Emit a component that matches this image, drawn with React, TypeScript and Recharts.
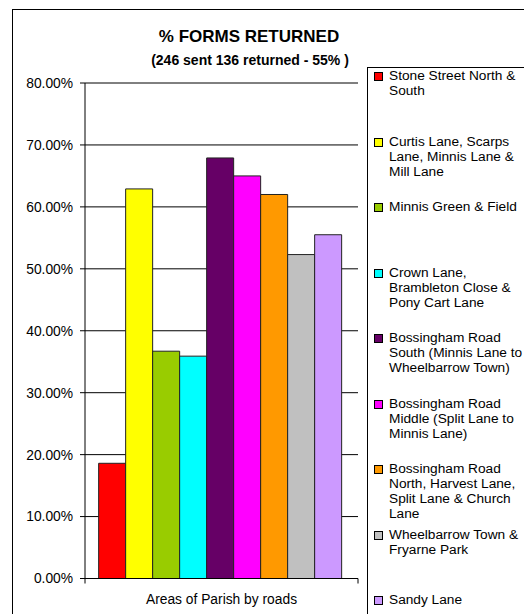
import { Bar, BarChart, CartesianGrid, XAxis, YAxis } from "recharts";

const category = "Areas of Parish by roads";

const areas = [
  "Stone Street North &\nSouth",
  "Curtis Lane, Scarps\nLane, Minnis Lane &\nMill Lane",
  "Minnis Green & Field",
  "Crown Lane,\nBrambleton Close &\nPony Cart Lane",
  "Bossingham Road\nSouth (Minnis Lane to\nWheelbarrow Town)",
  "Bossingham Road\nMiddle (Split Lane to\nMinnis Lane)",
  "Bossingham Road\nNorth, Harvest Lane,\nSplit Lane & Church\nLane",
  "Wheelbarrow Town &\nFryarne Park",
  "Sandy Lane",
];

// % of forms returned per area
const returned = [18.6, 62.9, 36.7, 35.9, 67.9, 65.0, 62.0, 52.3, 55.5];

const colors = [
  "#ff0000",
  "#ffff00",
  "#99cc00",
  "#00ffff",
  "#660066",
  "#ff00ff",
  "#ff9900",
  "#c0c0c0",
  "#cc99ff",
];

const yTicks = [0, 10, 20, 30, 40, 50, 60, 70, 80];

const row: Record<string, string | number> = { cat: category };
areas.forEach((_, i) => {
  row[`s${i}`] = returned[i];
});
const data = [row];

const font = "'Liberation Sans', Arial, sans-serif";

function CategoryTick(props: any) {
  const { x, y, payload } = props;
  const half = payload && payload.offset ? payload.offset : 0;
  return (
    <g>
      {half > 0 && (
        <>
          <line x1={x - half} x2={x - half} y1={y} y2={y + 5} stroke="#000" />
          <line x1={x + half} x2={x + half} y1={y} y2={y + 5} stroke="#000" />
        </>
      )}
      <text x={x} y={y + 25} textAnchor="middle" fontSize={13.8} fill="#000" fontFamily={font}>
        {payload.value}
      </text>
    </g>
  );
}

function Legend() {
  return (
    <div
      style={{
        position: "absolute",
        left: 367,
        top: 67,
        width: 180,
        height: 600,
        border: "1px solid #000",
        background: "#fff",
      }}
    >
      {areas.map((name, i) => (
        <div
          key={name}
          style={{
            position: "absolute",
            left: 6,
            top: 0 + i * 65.5,
            display: "flex",
            alignItems: "flex-start",
          }}
        >
          <div
            style={{
              width: 7,
              height: 7,
              marginTop: 4,
              marginRight: 6,
              background: colors[i],
              border: "1px solid #000",
              flexShrink: 0,
            }}
          />
          <div
            style={{
              fontFamily: font,
              fontSize: 13.7,
              lineHeight: "15px",
              whiteSpace: "pre",
              color: "#000",
            }}
          >
            {name}
          </div>
        </div>
      ))}
    </div>
  );
}

export default function App() {
  return (
    <div
      style={{
        position: "absolute",
        left: 0,
        top: 0,
        width: 524,
        height: 614,
        overflow: "hidden",
        background: "#fff",
      }}
    >
      <div
        style={{
          position: "absolute",
          left: 12,
          top: 9,
          width: 600,
          height: 700,
          border: "1px solid #000",
        }}
      />
      <div
        style={{
          position: "absolute",
          left: 0,
          width: 498,
          top: 27,
          textAlign: "center",
          fontFamily: font,
          fontWeight: "bold",
          fontSize: 17,
          lineHeight: "20px",
        }}
      >
        % FORMS RETURNED
      </div>
      <div
        style={{
          position: "absolute",
          left: 0,
          width: 500,
          top: 51,
          textAlign: "center",
          fontFamily: font,
          fontWeight: "bold",
          fontSize: 14,
          lineHeight: "18px",
        }}
      >
        (246 sent 136 returned - 55% )
      </div>
      <div style={{ position: "absolute", left: 0, top: 0 }}>
        <BarChart
          width={524}
          height={614}
          data={data}
          margin={{ top: 83, right: 166, bottom: 5.5, left: 0 }}
          barCategoryGap="5%"
          barGap={0}
          style={{ fontFamily: font }}
        >
          <CartesianGrid vertical={false} stroke="#000" />
          <XAxis
            dataKey="cat"
            height={30}
            tickSize={0}
            tickMargin={0}
            tickLine={false}
            axisLine={{ stroke: "#000" }}
            tick={<CategoryTick />}
          />
          <YAxis
            width={85}
            domain={[0, 80]}
            ticks={yTicks}
            interval={0}
            tickFormatter={(v: number) => `${v.toFixed(2)}%`}
            tickSize={5}
            tickMargin={7}
            tick={{ fill: "#000", fontSize: 13.8 }}
            axisLine={{ stroke: "#000" }}
            tickLine={{ stroke: "#000" }}
          />
          {areas.map((name, i) => (
            <Bar
              key={name}
              dataKey={`s${i}`}
              name={name}
              fill={colors[i]}
              stroke="#222"
              strokeWidth={1}
              isAnimationActive={false}
            />
          ))}
        </BarChart>
      </div>
      <Legend />
    </div>
  );
}
